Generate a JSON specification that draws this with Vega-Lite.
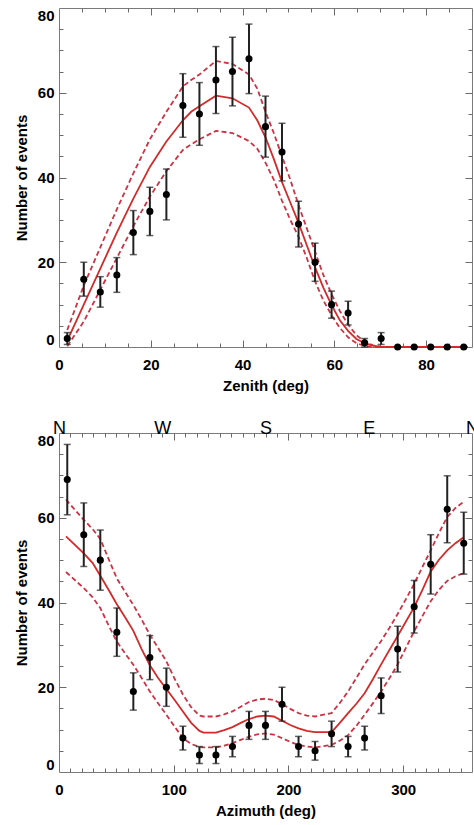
{
  "$schema": "https://vega.github.io/schema/vega-lite/v6.json",
  "background": "white",
  "padding": {"left": 13, "top": 7, "right": 0, "bottom": 0},
  "spacing": 24,
  "config": {
    "view": {"stroke": "#7a7a7a", "strokeWidth": 1},
    "axis": {
      "labelFont": "Liberation Sans", "labelFontWeight": "bold", "labelFontSize": 15, "labelColor": "#000",
      "titleFont": "Liberation Sans", "titleFontWeight": "bold", "titleFontSize": 15, "titleColor": "#000",
      "domain": false, "grid": false, "tickColor": "#6a6a6a", "tickWidth": 1,
      "labelFlush": false, "labelOverlap": false
    }
  },
  "datasets": {
    "zen_pts": [
      {"zen": 1.8, "n": 2, "lo": 0.6, "hi": 3.4},
      {"zen": 5.4, "n": 16, "lo": 12, "hi": 20},
      {"zen": 9.0, "n": 13, "lo": 9.4, "hi": 16.6},
      {"zen": 12.6, "n": 17, "lo": 12.9, "hi": 21.1},
      {"zen": 16.2, "n": 27, "lo": 21.8, "hi": 32.2},
      {"zen": 19.8, "n": 32, "lo": 26.3, "hi": 37.7},
      {"zen": 23.4, "n": 36, "lo": 30, "hi": 42},
      {"zen": 27.0, "n": 57, "lo": 49.5, "hi": 64.5},
      {"zen": 30.6, "n": 55, "lo": 47.6, "hi": 62.4},
      {"zen": 34.2, "n": 63, "lo": 55.1, "hi": 70.9},
      {"zen": 37.8, "n": 65, "lo": 56.9, "hi": 73.1},
      {"zen": 41.4, "n": 68, "lo": 59.8, "hi": 76.2},
      {"zen": 45.0, "n": 52, "lo": 44.8, "hi": 59.2},
      {"zen": 48.6, "n": 46, "lo": 39.2, "hi": 52.8},
      {"zen": 52.2, "n": 29, "lo": 23.6, "hi": 34.4},
      {"zen": 55.8, "n": 20, "lo": 15.5, "hi": 24.5},
      {"zen": 59.4, "n": 10, "lo": 6.8, "hi": 13.2},
      {"zen": 63.0, "n": 8, "lo": 5.2, "hi": 10.8},
      {"zen": 66.6, "n": 1, "lo": 0, "hi": 2},
      {"zen": 70.2, "n": 2, "lo": 0.6, "hi": 3.4},
      {"zen": 73.8, "n": 0, "lo": 0, "hi": 0},
      {"zen": 77.4, "n": 0, "lo": 0, "hi": 0},
      {"zen": 81.0, "n": 0, "lo": 0, "hi": 0},
      {"zen": 84.6, "n": 0, "lo": 0, "hi": 0},
      {"zen": 88.2, "n": 0, "lo": 0, "hi": 0}
    ],
    "zen_model": [
      {"zen": 1.8, "c": 1.5, "u": 4.0, "l": 0.2},
      {"zen": 5.4, "c": 10.0, "u": 14.5, "l": 6.0},
      {"zen": 9.0, "c": 18.5, "u": 23.5, "l": 13.5},
      {"zen": 12.6, "c": 27.0, "u": 32.5, "l": 21.0},
      {"zen": 16.2, "c": 35.0, "u": 41.0, "l": 28.5},
      {"zen": 19.8, "c": 42.5, "u": 49.0, "l": 35.5},
      {"zen": 23.4, "c": 48.5, "u": 55.5, "l": 41.5},
      {"zen": 27.0, "c": 53.5, "u": 61.5, "l": 46.5},
      {"zen": 28.8, "c": 55.5, "u": 63.0, "l": 47.8},
      {"zen": 30.6, "c": 56.8, "u": 64.3, "l": 49.0},
      {"zen": 34.2, "c": 59.3, "u": 67.5, "l": 51.0},
      {"zen": 37.8, "c": 58.7, "u": 66.8, "l": 50.5},
      {"zen": 41.4, "c": 56.5, "u": 64.3, "l": 48.6},
      {"zen": 43.2, "c": 53.5, "u": 61.0, "l": 46.8},
      {"zen": 45.0, "c": 49.5, "u": 55.5, "l": 43.5},
      {"zen": 46.8, "c": 44.4, "u": 50.5, "l": 39.5},
      {"zen": 48.6, "c": 38.9, "u": 45.0, "l": 34.5},
      {"zen": 50.4, "c": 34.1, "u": 39.5, "l": 30.0},
      {"zen": 52.2, "c": 29.3, "u": 33.5, "l": 26.0},
      {"zen": 54.0, "c": 24.0, "u": 28.0, "l": 21.0},
      {"zen": 55.8, "c": 18.8, "u": 22.5, "l": 15.5},
      {"zen": 57.6, "c": 14.0, "u": 17.0, "l": 11.0},
      {"zen": 59.4, "c": 9.9, "u": 12.5, "l": 7.5},
      {"zen": 61.2, "c": 6.3, "u": 8.5, "l": 4.5},
      {"zen": 63.0, "c": 3.8, "u": 5.3, "l": 2.3},
      {"zen": 64.8, "c": 1.9, "u": 2.8, "l": 0.9},
      {"zen": 66.6, "c": 0.9, "u": 1.3, "l": 0.3},
      {"zen": 68.4, "c": 0.3, "u": 0.4, "l": 0.0},
      {"zen": 70.2, "c": 0, "u": 0, "l": 0},
      {"zen": 89.0, "c": 0, "u": 0, "l": 0}
    ],
    "az_pts": [
      {"az": 7.2, "n": 69, "lo": 60.7, "hi": 77.3},
      {"az": 21.6, "n": 56, "lo": 48.5, "hi": 63.5},
      {"az": 36.0, "n": 50, "lo": 42.9, "hi": 57.1},
      {"az": 50.4, "n": 33, "lo": 27.3, "hi": 38.7},
      {"az": 64.8, "n": 19, "lo": 14.6, "hi": 23.4},
      {"az": 79.2, "n": 27, "lo": 21.8, "hi": 32.2},
      {"az": 93.6, "n": 20, "lo": 15.5, "hi": 24.5},
      {"az": 108.0, "n": 8, "lo": 5.2, "hi": 10.8},
      {"az": 122.4, "n": 4, "lo": 2, "hi": 6},
      {"az": 136.8, "n": 4, "lo": 2, "hi": 6},
      {"az": 151.2, "n": 6, "lo": 3.6, "hi": 8.4},
      {"az": 165.6, "n": 11, "lo": 7.7, "hi": 14.3},
      {"az": 180.0, "n": 11, "lo": 7.7, "hi": 14.3},
      {"az": 194.4, "n": 16, "lo": 12, "hi": 20},
      {"az": 208.8, "n": 6, "lo": 3.6, "hi": 8.4},
      {"az": 223.2, "n": 5, "lo": 2.8, "hi": 7.2},
      {"az": 237.6, "n": 9, "lo": 6, "hi": 12},
      {"az": 252.0, "n": 6, "lo": 3.6, "hi": 8.4},
      {"az": 266.4, "n": 8, "lo": 5.2, "hi": 10.8},
      {"az": 280.8, "n": 18, "lo": 13.8, "hi": 22.2},
      {"az": 295.2, "n": 29, "lo": 23.6, "hi": 34.4},
      {"az": 309.6, "n": 39, "lo": 32.8, "hi": 45.2},
      {"az": 324.0, "n": 49, "lo": 42, "hi": 56},
      {"az": 338.4, "n": 62, "lo": 54.1, "hi": 69.9},
      {"az": 352.8, "n": 54, "lo": 46.7, "hi": 61.3}
    ],
    "az_model": [
      {"az": 6.1, "c": 55.6, "u": 64.3, "l": 47.2},
      {"az": 21.6, "c": 51.6, "u": 59.5, "l": 43.4},
      {"az": 29.4, "c": 49.3, "u": 57.3, "l": 41.2},
      {"az": 36.0, "c": 46.3, "u": 55.0, "l": 38.7},
      {"az": 43.2, "c": 43.0, "u": 50.3, "l": 34.6},
      {"az": 50.4, "c": 39.6, "u": 45.7, "l": 30.8},
      {"az": 57.6, "c": 36.5, "u": 42.5, "l": 28.0},
      {"az": 64.8, "c": 33.3, "u": 39.4, "l": 25.3},
      {"az": 72.0, "c": 29.0, "u": 36.0, "l": 22.2},
      {"az": 79.2, "c": 25.2, "u": 32.4, "l": 19.0},
      {"az": 86.4, "c": 22.2, "u": 29.3, "l": 16.2},
      {"az": 93.6, "c": 19.6, "u": 26.1, "l": 13.5},
      {"az": 100.8, "c": 17.0, "u": 22.0, "l": 10.7},
      {"az": 108.0, "c": 14.3, "u": 18.3, "l": 8.0},
      {"az": 115.2, "c": 11.6, "u": 15.3, "l": 6.6},
      {"az": 122.4, "c": 9.7, "u": 13.3, "l": 5.9},
      {"az": 126.0, "c": 9.3, "u": 13.1, "l": 5.8},
      {"az": 136.8, "c": 9.3, "u": 13.1, "l": 5.8},
      {"az": 144.0, "c": 9.9, "u": 13.6, "l": 6.2},
      {"az": 151.2, "c": 10.6, "u": 14.3, "l": 6.8},
      {"az": 158.4, "c": 11.6, "u": 15.4, "l": 7.6},
      {"az": 165.6, "c": 12.5, "u": 16.5, "l": 8.3},
      {"az": 172.8, "c": 13.1, "u": 17.1, "l": 8.9},
      {"az": 180.0, "c": 13.3, "u": 17.3, "l": 9.1},
      {"az": 187.2, "c": 13.1, "u": 17.0, "l": 8.8},
      {"az": 194.4, "c": 12.1, "u": 16.0, "l": 8.0},
      {"az": 201.6, "c": 11.1, "u": 14.9, "l": 7.1},
      {"az": 208.8, "c": 10.3, "u": 13.9, "l": 6.4},
      {"az": 216.0, "c": 9.7, "u": 13.3, "l": 6.0},
      {"az": 223.2, "c": 9.4, "u": 13.1, "l": 5.8},
      {"az": 237.6, "c": 9.4, "u": 13.9, "l": 6.4},
      {"az": 244.8, "c": 11.6, "u": 16.3, "l": 7.4},
      {"az": 252.0, "c": 13.9, "u": 19.0, "l": 8.7},
      {"az": 259.2, "c": 16.1, "u": 22.2, "l": 10.9},
      {"az": 266.4, "c": 18.6, "u": 25.4, "l": 13.5},
      {"az": 273.6, "c": 21.9, "u": 28.2, "l": 16.2},
      {"az": 280.8, "c": 25.4, "u": 30.9, "l": 19.0},
      {"az": 288.0, "c": 28.8, "u": 34.0, "l": 22.1},
      {"az": 295.2, "c": 32.1, "u": 37.3, "l": 25.4},
      {"az": 302.4, "c": 35.5, "u": 40.8, "l": 29.3},
      {"az": 309.6, "c": 38.9, "u": 44.4, "l": 33.2},
      {"az": 316.8, "c": 43.0, "u": 48.4, "l": 36.8},
      {"az": 324.0, "c": 47.3, "u": 52.3, "l": 40.3},
      {"az": 331.2, "c": 50.1, "u": 56.4, "l": 43.0},
      {"az": 338.4, "c": 52.3, "u": 60.2, "l": 45.1},
      {"az": 345.6, "c": 54.0, "u": 62.3, "l": 46.2},
      {"az": 352.8, "c": 55.4, "u": 63.8, "l": 46.9}
    ]
  },
  "vconcat": [
    {
      "width": 413, "height": 339,
      "resolve": {"axis": {"x": "independent", "y": "independent"}},
      "layer": [
        {
          "data": {"name": "zen_model"},
          "mark": {"type": "line", "color": "#cc3344", "strokeWidth": 1.8, "strokeDash": [5, 3]},
          "encoding": {
            "x": {"field": "zen", "type": "quantitative", "scale": {"domain": [0, 90], "nice": false, "zero": false},
              "axis": {"orient": "bottom", "values": [0, 20, 40, 60, 80], "ticks": false, "labelPadding": 10, "title": "Zenith (deg)", "titlePadding": 6}},
            "y": {"field": "l", "type": "quantitative", "scale": {"domain": [0, 80], "nice": false, "zero": false},
              "axis": {"orient": "left", "values": [0, 20, 40, 60, 80], "ticks": false, "labelPadding": 5, "labelFlush": true, "title": "Number of events", "titlePadding": 8}}
          }
        },
        {
          "data": {"name": "zen_model"},
          "mark": {"type": "line", "color": "#cc3344", "strokeWidth": 1.8, "strokeDash": [5, 3]},
          "encoding": {
            "x": {"field": "zen", "type": "quantitative", "scale": {"domain": [0, 90], "nice": false, "zero": false},
              "axis": {"orient": "bottom", "values": [20, 40, 60, 80], "labels": false, "tickSize": -7, "title": null}},
            "y": {"field": "u", "type": "quantitative", "scale": {"domain": [0, 80], "nice": false, "zero": false},
              "axis": {"orient": "left", "values": [20, 40, 60], "labels": false, "tickSize": -7, "title": null}}
          }
        },
        {
          "data": {"name": "zen_model"},
          "mark": {"type": "line", "color": "#d42a2a", "strokeWidth": 1.8},
          "encoding": {
            "x": {"field": "zen", "type": "quantitative", "scale": {"domain": [0, 90], "nice": false, "zero": false},
              "axis": {"orient": "bottom", "values": [5, 10, 15, 25, 30, 35, 45, 50, 55, 65, 70, 75, 85], "labels": false, "tickSize": -4, "title": null}},
            "y": {"field": "c", "type": "quantitative", "scale": {"domain": [0, 80], "nice": false, "zero": false},
              "axis": {"orient": "left", "values": [5, 10, 15, 25, 30, 35, 45, 50, 55, 65, 70, 75], "labels": false, "tickSize": -4, "title": null}}
          }
        },
        {
          "data": {"name": "zen_pts"},
          "mark": {"type": "rule", "color": "#222222", "strokeWidth": 2},
          "encoding": {
            "x": {"field": "zen", "type": "quantitative", "scale": {"domain": [0, 90], "nice": false, "zero": false},
              "axis": {"orient": "top", "values": [20, 40, 60, 80], "labels": false, "tickSize": -7, "title": null}},
            "y": {"field": "lo", "type": "quantitative", "scale": {"domain": [0, 80], "nice": false, "zero": false},
              "axis": {"orient": "right", "values": [20, 40, 60], "labels": false, "tickSize": -7, "title": null}},
            "y2": {"field": "hi"}
          }
        },
        {
          "data": {"name": "zen_pts"},
          "mark": {"type": "tick", "orient": "horizontal", "color": "#222222", "size": 7, "thickness": 1.5},
          "encoding": {
            "x": {"field": "zen", "type": "quantitative", "scale": {"domain": [0, 90], "nice": false, "zero": false},
              "axis": {"orient": "top", "values": [5, 10, 15, 25, 30, 35, 45, 50, 55, 65, 70, 75, 85], "labels": false, "tickSize": -4, "title": null}},
            "y": {"field": "lo", "type": "quantitative", "scale": {"domain": [0, 80], "nice": false, "zero": false},
              "axis": {"orient": "right", "values": [5, 10, 15, 25, 30, 35, 45, 50, 55, 65, 70, 75], "labels": false, "tickSize": -4, "title": null}}
          }
        },
        {
          "data": {"name": "zen_pts"},
          "mark": {"type": "tick", "orient": "horizontal", "color": "#222222", "size": 7, "thickness": 1.5},
          "encoding": {
            "x": {"field": "zen", "type": "quantitative", "scale": {"domain": [0, 90], "nice": false, "zero": false}, "axis": null},
            "y": {"field": "hi", "type": "quantitative", "scale": {"domain": [0, 80], "nice": false, "zero": false}, "axis": null}
          }
        },
        {
          "data": {"name": "zen_pts"},
          "mark": {"type": "circle", "size": 50, "color": "#000000", "opacity": 1},
          "encoding": {
            "x": {"field": "zen", "type": "quantitative", "scale": {"domain": [0, 90], "nice": false, "zero": false}, "axis": null},
            "y": {"field": "n", "type": "quantitative", "scale": {"domain": [0, 80], "nice": false, "zero": false}, "axis": null}
          }
        }
      ]
    },
    {
      "width": 413, "height": 339,
      "resolve": {"axis": {"x": "independent", "y": "independent"}},
      "layer": [
        {
          "data": {"name": "az_model"},
          "mark": {"type": "line", "color": "#cc3344", "strokeWidth": 1.8, "strokeDash": [5, 3]},
          "encoding": {
            "x": {"field": "az", "type": "quantitative", "scale": {"domain": [0, 360], "nice": false, "zero": false},
              "axis": {"orient": "bottom", "values": [0, 100, 200, 300], "ticks": false, "labelPadding": 10, "title": "Azimuth (deg)", "titlePadding": 6}},
            "y": {"field": "l", "type": "quantitative", "scale": {"domain": [0, 80], "nice": false, "zero": false},
              "axis": {"orient": "left", "values": [0, 20, 40, 60, 80], "ticks": false, "labelPadding": 5, "labelFlush": true, "title": "Number of events", "titlePadding": 8}}
          }
        },
        {
          "data": {"name": "az_model"},
          "mark": {"type": "line", "color": "#cc3344", "strokeWidth": 1.8, "strokeDash": [5, 3]},
          "encoding": {
            "x": {"field": "az", "type": "quantitative", "scale": {"domain": [0, 360], "nice": false, "zero": false},
              "axis": {"orient": "bottom", "values": [100, 200, 300], "labels": false, "tickSize": -7, "title": null}},
            "y": {"field": "u", "type": "quantitative", "scale": {"domain": [0, 80], "nice": false, "zero": false},
              "axis": {"orient": "left", "values": [20, 40, 60], "labels": false, "tickSize": -7, "title": null}}
          }
        },
        {
          "data": {"name": "az_model"},
          "mark": {"type": "line", "color": "#d42a2a", "strokeWidth": 1.8},
          "encoding": {
            "x": {"field": "az", "type": "quantitative", "scale": {"domain": [0, 360], "nice": false, "zero": false},
              "axis": {"orient": "bottom", "values": [10, 20, 30, 40, 50, 60, 70, 80, 90, 110, 120, 130, 140, 150, 160, 170, 180, 190, 210, 220, 230, 240, 250, 260, 270, 280, 290, 310, 320, 330, 340, 350], "labels": false, "tickSize": -4, "title": null}},
            "y": {"field": "c", "type": "quantitative", "scale": {"domain": [0, 80], "nice": false, "zero": false},
              "axis": {"orient": "left", "values": [5, 10, 15, 25, 30, 35, 45, 50, 55, 65, 70, 75], "labels": false, "tickSize": -4, "title": null}}
          }
        },
        {
          "data": {"name": "az_pts"},
          "mark": {"type": "rule", "color": "#222222", "strokeWidth": 2},
          "encoding": {
            "x": {"field": "az", "type": "quantitative", "scale": {"domain": [0, 360], "nice": false, "zero": false},
              "axis": {"orient": "top", "values": [100, 200, 300], "labels": false, "tickSize": -7, "title": null}},
            "y": {"field": "lo", "type": "quantitative", "scale": {"domain": [0, 80], "nice": false, "zero": false},
              "axis": {"orient": "right", "values": [20, 40, 60], "labels": false, "tickSize": -7, "title": null}},
            "y2": {"field": "hi"}
          }
        },
        {
          "data": {"name": "az_pts"},
          "mark": {"type": "tick", "orient": "horizontal", "color": "#222222", "size": 7, "thickness": 1.5},
          "encoding": {
            "x": {"field": "az", "type": "quantitative", "scale": {"domain": [0, 360], "nice": false, "zero": false},
              "axis": {"orient": "top", "values": [10, 20, 30, 40, 50, 60, 70, 80, 90, 110, 120, 130, 140, 150, 160, 170, 180, 190, 210, 220, 230, 240, 250, 260, 270, 280, 290, 310, 320, 330, 340, 350], "labels": false, "tickSize": -4, "title": null}},
            "y": {"field": "lo", "type": "quantitative", "scale": {"domain": [0, 80], "nice": false, "zero": false},
              "axis": {"orient": "right", "values": [5, 10, 15, 25, 30, 35, 45, 50, 55, 65, 70, 75], "labels": false, "tickSize": -4, "title": null}}
          }
        },
        {
          "data": {"name": "az_pts"},
          "mark": {"type": "tick", "orient": "horizontal", "color": "#222222", "size": 7, "thickness": 1.5},
          "encoding": {
            "x": {"field": "az", "type": "quantitative", "scale": {"domain": [0, 360], "nice": false, "zero": false},
              "axis": {"orient": "top", "values": [0, 90, 180, 270, 360], "ticks": false, "labelPadding": 0, "labelBaseline": "alphabetic", "labelFont": "Liberation Sans", "labelFontWeight": "normal", "labelFontSize": 18, "labelExpr": "datum.value == 90 ? 'W' : datum.value == 180 ? 'S' : datum.value == 270 ? 'E' : 'N'", "title": null}},
            "y": {"field": "hi", "type": "quantitative", "scale": {"domain": [0, 80], "nice": false, "zero": false}, "axis": null}
          }
        },
        {
          "data": {"name": "az_pts"},
          "mark": {"type": "circle", "size": 50, "color": "#000000", "opacity": 1},
          "encoding": {
            "x": {"field": "az", "type": "quantitative", "scale": {"domain": [0, 360], "nice": false, "zero": false}, "axis": null},
            "y": {"field": "n", "type": "quantitative", "scale": {"domain": [0, 80], "nice": false, "zero": false}, "axis": null}
          }
        }
      ]
    }
  ]
}
